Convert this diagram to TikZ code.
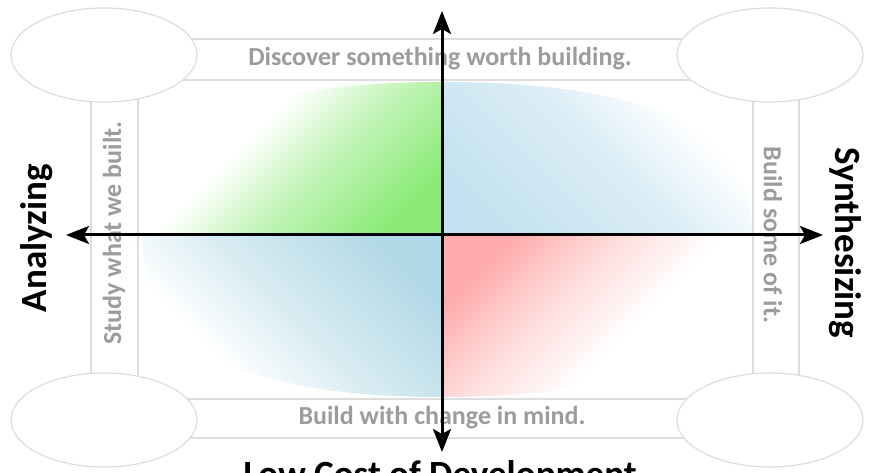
\documentclass[tikz,border=0pt]{standalone}
\usepackage{fontspec}
\setmainfont{Carlito}
\usetikzlibrary{arrows.meta,shapes.geometric}
\definecolor{bandline}{HTML}{DDDDDD}
\definecolor{bandtext}{HTML}{9C9C9C}
\definecolor{qgreen}{HTML}{8CEB78}
\colorlet{qgreenM}{qgreen!50}
\definecolor{qblueA}{HTML}{C4E2F0}
\colorlet{qblueAM}{qblueA!60}
\definecolor{qblueB}{HTML}{B2D9E6}
\colorlet{qblueBM}{qblueB!50}
\definecolor{qred}{HTML}{FFABAB}
\colorlet{qredM}{qred!40}
\pgfdeclareverticalshading{fadegreen}{100bp}{color(0bp)=(qgreen); color(25bp)=(qgreen); color(45bp)=(qgreenM); color(60bp)=(white); color(100bp)=(white)}
\pgfdeclareverticalshading{fadeblueA}{100bp}{color(0bp)=(qblueA); color(25bp)=(qblueA); color(52bp)=(qblueAM); color(70bp)=(white); color(100bp)=(white)}
\pgfdeclareverticalshading{fadeblueB}{100bp}{color(0bp)=(qblueB); color(25bp)=(qblueB); color(50bp)=(qblueBM); color(68bp)=(white); color(100bp)=(white)}
\pgfdeclareverticalshading{fadered}{100bp}{color(0bp)=(qred); color(25bp)=(qred); color(42bp)=(qredM); color(57bp)=(white); color(100bp)=(white)}
\tikzset{
  band/.style={rectangle, draw=bandline, fill=white, line width=1.2pt, inner sep=0pt},
  cornerell/.style={ellipse, draw=bandline, fill=white, line width=1.2pt, minimum width=186pt, minimum height=94pt, inner sep=0pt},
  bandtxt/.style={text=bandtext, font=\fontsize{26}{30}\selectfont\bfseries, inner sep=0pt},
  axislabel/.style={text=black, font=\fontsize{37}{42}\selectfont\bfseries, inner sep=0pt},
  axisarrow/.style={line width=3pt, -{Stealth[length=23pt,width=18pt,inset=5pt]}}
}
\begin{document}
\begin{tikzpicture}[x=1pt,y=1pt]
\useasboundingbox (0,0) rectangle (870,473);
\clip (0,0) rectangle (870,473);
\fill[white] (0,0) rectangle (870,473);
% bands
\node[band, minimum width=570pt, minimum height=41pt] (btop) at (435,413.5) {};
\node[band, minimum width=570pt, minimum height=39pt] (bbot) at (435,54.5) {};
\node[band, minimum width=47pt, minimum height=365pt] (bleft) at (114.5,235.5) {};
\node[band, minimum width=46pt, minimum height=365pt] (bright) at (776,235.5) {};
% corner ellipses
\node[cornerell] (etl) at (104,418) {};
\node[cornerell] (etr) at (770,418) {};
\node[cornerell] (ebl) at (104,53) {};
\node[cornerell] (ebr) at (770,53) {};
% quadrant shadings
\shade[shading=fadegreen, shading angle=45]
  (442,238) -- (142,238) .. controls (142,342) and (238,391) .. (442,391) -- cycle;
\shade[shading=fadeblueA, shading angle=-45]
  (442,238) -- (752,238) .. controls (752,342) and (653,391) .. (442,391) -- cycle;
\shade[shading=fadeblueB, shading angle=135]
  (442,238) -- (142,238) .. controls (142,128) and (238,76) .. (442,76) -- cycle;
\shade[shading=fadered, shading angle=-135]
  (442,238) -- (752,238) .. controls (752,128) and (653,76) .. (442,76) -- cycle;
% band texts
\node[bandtxt] (ttop) at (440,414) {Discover something worth building.};
\node[bandtxt] (tbot) at (442,55) {Build with change in mind.};
\node[bandtxt, rotate=90] (tleft) at (114,240) {Study what we built.};
\node[bandtxt, rotate=-90] (tright) at (773,238) {Build some of it.};
% axis labels
\node[axislabel, rotate=90] (lan) at (37,235) {Analyzing};
\node[axislabel, rotate=-90] (lsy) at (845,230) {Synthesizing};
\node[axislabel, anchor=base] (llc) at (440,-14) {Low Cost of Development};
% axes
\coordinate (c) at (442,238);
\coordinate (up) at (442,462);
\coordinate (down) at (442,21);
\coordinate (left) at (66,238);
\coordinate (right) at (823,238);
\draw[axisarrow] (c) -- (up);
\draw[axisarrow] (c) -- (down);
\draw[axisarrow] (c) -- (left);
\draw[axisarrow] (c) -- (right);
\end{tikzpicture}
\end{document}
